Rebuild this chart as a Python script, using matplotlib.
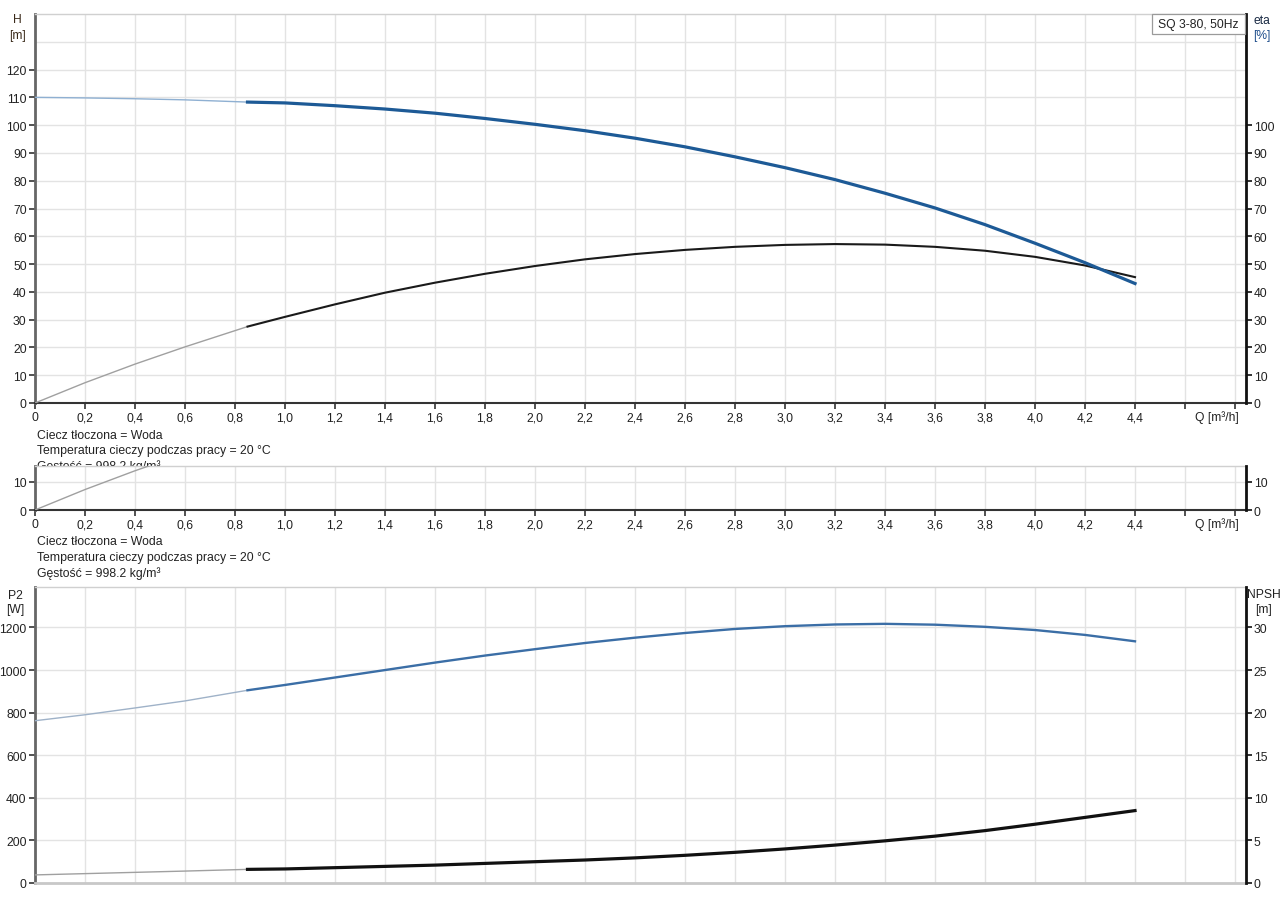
import matplotlib
matplotlib.use("Agg")
import matplotlib.pyplot as plt
from matplotlib.patches import Rectangle

plt.rcParams['font.family'] = ['Liberation Sans', 'DejaVu Sans']

# ---- data ----
q = [0.0, 0.2, 0.4, 0.6, 0.85, 1.0, 1.2, 1.4, 1.6, 1.8, 2.0, 2.2, 2.4, 2.6,
     2.8, 3.0, 3.2, 3.4, 3.6, 3.8, 4.0, 4.2, 4.4]
head_m = [110.0, 109.8, 109.5, 109.1, 108.3, 108.0, 107.0, 105.8, 104.3, 102.4,
          100.3, 98.0, 95.3, 92.2, 88.6, 84.7, 80.4, 75.5, 70.2, 64.2, 57.5, 50.5, 43.0]
eta_pct = [0.0, 7.3, 14.0, 20.2, 27.5, 31.0, 35.5, 39.7, 43.3, 46.5, 49.3, 51.7,
           53.6, 55.1, 56.2, 56.9, 57.2, 57.0, 56.2, 54.8, 52.6, 49.5, 45.3]
p2_w = [762, 790, 822, 855, 905, 930, 965, 1000, 1035, 1068, 1098, 1127, 1152,
        1174, 1193, 1206, 1214, 1217, 1213, 1203, 1188, 1165, 1135]
npsh_m = [0.95, 1.1, 1.25, 1.4, 1.6, 1.65, 1.8, 1.95, 2.1, 2.3, 2.5, 2.7, 2.95,
          3.25, 3.6, 4.0, 4.45, 4.95, 5.5, 6.15, 6.9, 7.7, 8.5]
n_thin = 5  # points 0..0.85 drawn thin (outside operating range)

x_ticks = [0.0, 0.2, 0.4, 0.6, 0.8, 1.0, 1.2, 1.4, 1.6, 1.8, 2.0, 2.2, 2.4, 2.6,
           2.8, 3.0, 3.2, 3.4, 3.6, 3.8, 4.0, 4.2, 4.4, 4.6, 4.8]
x_labels = ['0', '0,2', '0,4', '0,6', '0,8', '1,0', '1,2', '1,4', '1,6', '1,8', '2,0',
            '2,2', '2,4', '2,6', '2,8', '3,0', '3,2', '3,4', '3,6', '3,8', '4,0',
            '4,2', '4,4', '', '']
h_ticks = [0, 10, 20, 30, 40, 50, 60, 70, 80, 90, 100, 110, 120]
eta_ticks = [0, 10, 20, 30, 40, 50, 60, 70, 80, 90, 100]
p2_ticks = [0, 200, 400, 600, 800, 1000, 1200]
npsh_ticks = [0, 5, 10, 15, 20, 25, 30]
info_lines = ['Ciecz tłoczona = Woda',
              'Temperatura cieczy podczas pracy = 20 °C',
              'Gęstość = 998.2 kg/m³']
legend_text = 'SQ 3-80, 50Hz'

W, H = 1288, 903
fig = plt.figure(figsize=(W / 100, H / 100), dpi=100)

def rect(x0, y0, x1, y1):
    return [x0 / W, 1 - y1 / H, (x1 - x0) / W, (y1 - y0) / H]

def fx(x):
    return x / W

def fy(y):
    return 1 - y / H

XMAX = 4.842
GRID = '#e3e3e3'
TXT = '#222222'
FS = 8.7
BLUE = '#1d5a96'
BLUE2 = '#3b6ea6'

def style(ax, left_color='#666666', bottom_color='#333333', xlabels=True):
    ax.set_xlim(0, XMAX)
    ax.set_xticks(x_ticks)
    if xlabels:
        ax.set_xticklabels(x_labels, fontsize=FS, color=TXT)
    else:
        ax.set_xticklabels([])
    ax.grid(True, color=GRID, lw=1.0, zorder=0)
    ax.set_axisbelow(True)
    ax.spines['left'].set_color(left_color)
    ax.spines['left'].set_linewidth(2.0)
    ax.spines['bottom'].set_color(bottom_color)
    ax.spines['bottom'].set_linewidth(1.5)
    ax.spines['top'].set_color('#d0d0d0')
    ax.spines['top'].set_linewidth(1.0)
    ax.spines['right'].set_visible(False)
    ax.tick_params(axis='both', colors='#333333', labelcolor=TXT, labelsize=FS,
                   length=4, width=1.2, pad=2)

def right_twin(ax, ylim, ticks):
    r = ax.twinx()
    r.set_ylim(*ylim)
    r.set_yticks(ticks)
    r.set_yticklabels([str(t) for t in ticks], fontsize=FS, color=TXT)
    for s in ['left', 'top', 'bottom']:
        r.spines[s].set_visible(False)
    r.spines['right'].set_color('#111111')
    r.spines['right'].set_linewidth(2.0)
    r.tick_params(axis='y', colors='#111111', labelcolor=TXT, labelsize=FS,
                  length=4, width=1.2, pad=2)
    return r

# ---------------- top panel ----------------
ax1 = fig.add_axes(rect(35, 15, 1245.5, 404))
ax1.set_zorder(2)
style(ax1)
ax1.set_ylim(0, 140)
ax1.set_yticks(h_ticks)
ax1.set_yticklabels([str(t) for t in h_ticks], fontsize=FS, color=TXT)
ax1.axhline(130, color=GRID, lw=1.0, zorder=0)
ax1.plot(q[:n_thin], head_m[:n_thin], color='#8fb0d2', lw=1.0, zorder=3)
ax1.plot(q[n_thin - 1:], head_m[n_thin - 1:], color=BLUE, lw=2.3, zorder=4)
ax1.plot(q[:n_thin], eta_pct[:n_thin], color='#a0a0a0', lw=1.0, zorder=3)
ax1.plot(q[n_thin - 1:], eta_pct[n_thin - 1:], color='#1a1a1a', lw=1.5, zorder=3)
r1 = right_twin(ax1, (0, 140), eta_ticks)

# legend box (top right, inside the plot)
fig.patches.append(Rectangle((fx(1152), fy(35)), (1245 - 1152) / W, 20 / H,
                             transform=fig.transFigure, fc='white', ec='#9a9a9a',
                             lw=0.9, zorder=20))
fig.text(fx(1198.5), fy(25), legend_text, ha='center', va='center', fontsize=FS,
         color=TXT, zorder=21)

fig.text(fx(17), fy(20), 'H', ha='center', va='center', fontsize=FS, color='#3a2a1a')
fig.text(fx(17), fy(36), '[m]', ha='center', va='center', fontsize=FS, color='#3a2a1a')
fig.text(fx(1262), fy(21), 'eta', ha='center', va='center', fontsize=FS, color='#1a2a44')
fig.text(fx(1262), fy(36), '[%]', ha='center', va='center', fontsize=FS, color='#1f4e8c')
fig.text(fx(1217), fy(418), 'Q [m³/h]', ha='center', va='center', fontsize=FS, color=TXT)

for i, line in enumerate(info_lines):
    fig.text(fx(37), fy(436 + i * 15.5), line, ha='left', va='center', fontsize=8.8,
             color=TXT, zorder=-1)

# ---------------- middle panel ----------------
ax2 = fig.add_axes(rect(35, 467, 1245.5, 511))
ax2.set_zorder(3)
ax2.patch.set_facecolor('white')
style(ax2)
ax2.set_ylim(0, 15.7)
ax2.set_yticks([0, 10])
ax2.set_yticklabels(['0', '10'], fontsize=FS, color=TXT)
ax2.plot(q[:n_thin], eta_pct[:n_thin], color='#a0a0a0', lw=1.0, zorder=3)
right_twin(ax2, (0, 15.7), [0, 10])
fig.text(fx(1217), fy(525), 'Q [m³/h]', ha='center', va='center', fontsize=FS, color=TXT)

for i, line in enumerate(info_lines):
    fig.text(fx(37), fy(542 + i * 16), line, ha='left', va='center', fontsize=8.8,
             color=TXT)

# ---------------- bottom panel ----------------
ax3 = fig.add_axes(rect(35, 588, 1245.5, 884))
style(ax3, bottom_color='#c8c8c8', xlabels=False)
ax3.tick_params(axis='x', length=0)
ax3.spines['bottom'].set_linewidth(2.0)
P2MAX = 1390
ax3.set_ylim(0, P2MAX)
ax3.set_yticks(p2_ticks)
ax3.set_yticklabels([str(t) for t in p2_ticks], fontsize=FS, color=TXT)
ax3.plot(q[:n_thin], p2_w[:n_thin], color='#9fb2c8', lw=1.0, zorder=3)
ax3.plot(q[n_thin - 1:], p2_w[n_thin - 1:], color=BLUE2, lw=1.7, zorder=4)
r3 = right_twin(ax3, (0, P2MAX / 40), npsh_ticks)
r3.plot(q[:n_thin], npsh_m[:n_thin], color='#a0a0a0', lw=1.0, zorder=3)
r3.plot(q[n_thin - 1:], npsh_m[n_thin - 1:], color='#111111', lw=2.3, zorder=4)

fig.text(fx(15), fy(596), 'P2', ha='center', va='center', fontsize=FS, color=TXT)
fig.text(fx(15), fy(610), '[W]', ha='center', va='center', fontsize=FS, color=TXT)
fig.text(fx(1264), fy(595), 'NPSH', ha='center', va='center', fontsize=FS, color=TXT)
fig.text(fx(1264), fy(610), '[m]', ha='center', va='center', fontsize=FS, color=TXT)

fig.savefig('out.png', dpi=100, facecolor='white')
